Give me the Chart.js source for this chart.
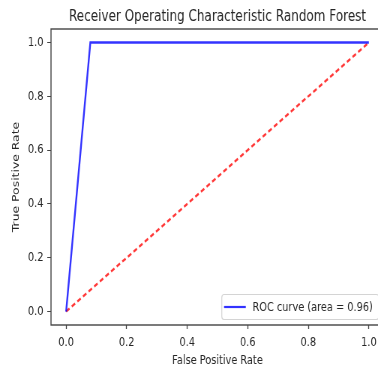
<!DOCTYPE html>
<html>
<head>
<meta charset="utf-8">
<script src="https://cdn.jsdelivr.net/npm/chart.js@4.4.0/dist/chart.umd.min.js"></script>
<style>
  html, body { margin: 0; padding: 0; background: #fff; overflow: hidden; width: 378px; height: 371px; }
  /* the source picture is squeezed sideways, so draw wide and squeeze */
  #wrap { width: 520px; height: 371px; transform: scaleX(0.75); transform-origin: 0 0; }
</style>
</head>
<body>
<div id="wrap"><canvas id="rocChart" width="520" height="371"></canvas></div>
<script>
// ROC curve values
const rocFpr = [0, 0.08, 1];
const rocTpr = [0, 1, 1];
const chanceFpr = [0, 1];
const chanceTpr = [0, 1];
const axisTicks = [0, 0.2, 0.4, 0.6, 0.8, 1.0];
const rocLabel = 'ROC curve (area = 0.96)';
const chartTitle = 'Receiver Operating Characteristic Random Forest';

Chart.defaults.font.family = "'DejaVu Sans', sans-serif";
Chart.defaults.color = '#262626';

// draws the four spines like matplotlib
const spines = {
  id: 'spines',
  afterDatasetsDraw(chart){
    const a = chart.chartArea, c = chart.ctx;
    c.save();
    c.strokeStyle = '#444';
    c.lineWidth = 1.4;
    c.strokeRect(a.left, a.top, a.right - a.left, a.bottom - a.top);
    c.restore();
  }
};

// legend box in the lower right corner of the axes
const innerLegend = {
  id: 'innerLegend',
  afterDraw(chart){
    const a = chart.chartArea, c = chart.ctx;
    const ds = chart.data.datasets[0];
    c.save();
    c.font = "13px 'DejaVu Sans', sans-serif";
    const tw = c.measureText(ds.label).width;
    const w = 3 + 29 + 9 + tw + 8, h = 25;
    const x = a.right - 7 - w, y = a.bottom - 5.5 - h;
    c.fillStyle = 'rgba(255,255,255,0.85)';
    c.strokeStyle = '#d4d4d4';
    c.lineWidth = 1.2;
    c.beginPath();
    c.roundRect(x, y, w, h, 3);
    c.fill(); c.stroke();
    c.strokeStyle = ds.borderColor;
    c.lineWidth = 2.2;
    c.beginPath();
    c.moveTo(x + 3, y + h / 2);
    c.lineTo(x + 32, y + h / 2);
    c.stroke();
    c.fillStyle = '#262626';
    c.textBaseline = 'middle';
    c.fillText(ds.label, x + 41, y + h / 2 + 1);
    c.restore();
  }
};

const setTicks = scale => { scale.ticks = axisTicks.map(v => ({ value: v })); };

new Chart(document.getElementById('rocChart').getContext('2d'), {
  type: 'scatter',
  data: {
    datasets: [
      { label: rocLabel, data: rocFpr.map((x, i) => ({ x, y: rocTpr[i] })),
        showLine: true, borderColor: 'rgba(0,0,255,0.8)', borderWidth: 2.4, pointRadius: 0, fill: false },
      { label: 'chance', data: chanceFpr.map((x, i) => ({ x, y: chanceTpr[i] })),
        showLine: true, borderColor: 'rgba(255,0,0,0.78)', borderWidth: 2.4, borderDash: [5.4, 3.6], pointRadius: 0, fill: false }
    ]
  },
  options: {
    responsive: false,
    animation: false,
    layout: { padding: { top: 0, left: 0, bottom: 0, right: 8 } },
    plugins: {
      legend: { display: false },
      tooltip: { enabled: false },
      title: { display: true, text: chartTitle, fullSize: false,
        font: { size: 16, weight: 'normal' }, color: '#262626', padding: { top: 7, bottom: 2.8 } }
    },
    scales: {
      x: {
        type: 'linear', min: -0.05, max: 1.05,
        afterBuildTicks: setTicks,
        afterFit: s => { s.height = 46; },
        border: { display: false },
        grid: { drawOnChartArea: false, drawTicks: true, tickLength: 4, color: '#444', tickWidth: 1.3 },
        ticks: { font: { size: 13 }, padding: 5.5, maxRotation: 0, callback: v => v.toFixed(1) },
        title: { display: true, text: 'False Positive Rate', font: { size: 13 }, padding: { top: 0, bottom: 2.2 } }
      },
      y: {
        type: 'linear', min: -0.05, max: 1.05,
        afterBuildTicks: setTicks,
        afterFit: s => { s.width = 68; },
        border: { display: false },
        grid: { drawOnChartArea: false, drawTicks: true, tickLength: 5, color: '#444', tickWidth: 1 },
        ticks: { font: { size: 13 }, padding: 5, callback: v => v.toFixed(1) },
        title: { display: true, text: 'True Positive Rate', font: { size: 12.4 }, padding: { top: 14.8, bottom: 0 } }
      }
    }
  },
  plugins: [spines, innerLegend]
});
</script>
</body>
</html>
